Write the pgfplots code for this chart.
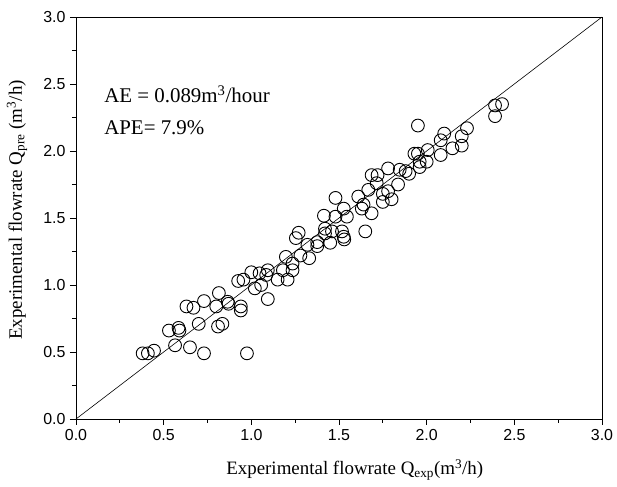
\documentclass[border=0pt]{standalone}
\usepackage{fontspec}
\setmainfont{Liberation Serif}
\newfontfamily\arial{Liberation Sans}
\usepackage{pgfplots}
\pgfplotsset{compat=1.18}
\begin{document}
\begin{tikzpicture}
\begin{axis}[
  scale only axis,
  width=526bp, height=402bp,
  xmin=0, xmax=3, ymin=0, ymax=3,
  xtick={0,0.5,...,3}, ytick={0,0.5,...,3},
  minor tick num=1,
  xtick pos=bottom, ytick pos=left,
  tick align=outside,
  major tick length=6bp, minor tick length=4bp,
  tick style={black, line width=0.8pt},
  axis line style={line width=0.8pt},
  /pgf/number format/assume math mode=true,
  /pgf/number format/fixed, /pgf/number format/fixed zerofill, /pgf/number format/precision=1,
  ticklabel style={font=\arial\fontsize{16}{16}\selectfont},
  xticklabel style={yshift=-1bp},
  yticklabel style={xshift=-1bp},
  xlabel={Experimental flowrate Q\textsubscript{exp}(m\textsuperscript{3}/h)},
  ylabel={Experimental flowrate Q\textsubscript{pre} (m\textsuperscript{3}/h)},
  every axis x label/.style={at={(axis description cs:0.53,-0.127)}, anchor=center, font=\fontsize{19}{19}\selectfont},
  every axis y label/.style={at={(axis description cs:-0.112,0.52)}, rotate=90, anchor=center, font=\fontsize{19}{19}\selectfont},
  clip=false,
]
\addplot[black, line width=0.6pt, forget plot] coordinates {(0,0) (3,3)};
\addplot[only marks, mark=o, mark size=6.4bp, mark options={line width=0.9pt, black}] coordinates {
(0.38,0.49) (0.41,0.49) (0.445,0.51) (0.53,0.66) (0.565,0.55) (0.585,0.68) (0.59,0.66)
(0.63,0.84) (0.65,0.535) (0.67,0.83) (0.70,0.71) (0.73,0.88) (0.73,0.49) (0.80,0.84)
(0.815,0.94) (0.81,0.69) (0.835,0.71) (0.865,0.875) (0.87,0.86) (0.94,0.81) (0.94,0.84)
(0.925,1.03) (0.955,1.04) (0.975,0.49)
(1.0,1.095) (1.02,0.975) (1.056,1.0) (1.047,1.087) (1.094,0.895) (1.094,1.11) (1.085,1.075)
(1.15,1.04) (1.18,1.11) (1.207,1.04) (1.235,1.11) (1.197,1.21) (1.235,1.16) (1.28,1.22)
(1.33,1.2) (1.254,1.35) (1.27,1.39) (1.32,1.30) (1.376,1.32) (1.376,1.29) (1.42,1.385)
(1.45,1.315) (1.527,1.36) (1.53,1.34) (1.42,1.42) (1.46,1.40) (1.517,1.40) (1.414,1.517)
(1.48,1.51) (1.545,1.51) (1.527,1.57) (1.48,1.65) (1.61,1.66) (1.64,1.60) (1.686,1.535)
(1.65,1.40) (1.667,1.71) (1.715,1.76) (1.686,1.82) (1.75,1.62) (1.80,1.64) (1.78,1.70)
(1.837,1.75) (1.63,1.57) (1.75,1.68) (1.78,1.87) (1.846,1.86) (1.90,1.83) (1.93,1.98)
(1.96,1.92) (2.006,2.007) (2.0,1.92) (2.08,1.97) (2.08,2.08) (2.10,2.13) (2.147,2.02)
(2.20,2.11) (2.20,2.04) (1.95,2.19) (2.39,2.34) (2.43,2.35) (2.39,2.26) (2.23,2.17)
(1.95,1.98) (1.96,1.88) (1.72,1.82) (1.88,1.85)
};
\node[anchor=base west, inner sep=0pt, font=\fontsize{21}{21}\selectfont] at (axis cs:0.16,2.36) {AE = 0.089m\textsuperscript{3}/hour};
\node[anchor=base west, inner sep=0pt, font=\fontsize{21}{21}\selectfont] at (axis cs:0.16,2.12) {APE= 7.9\%};
\end{axis}
\pgfresetboundingbox
\path[use as bounding box] (current axis.north west) ++(-76bp,17bp) rectangle ++(617bp,-487bp);
\end{tikzpicture}
\end{document}
